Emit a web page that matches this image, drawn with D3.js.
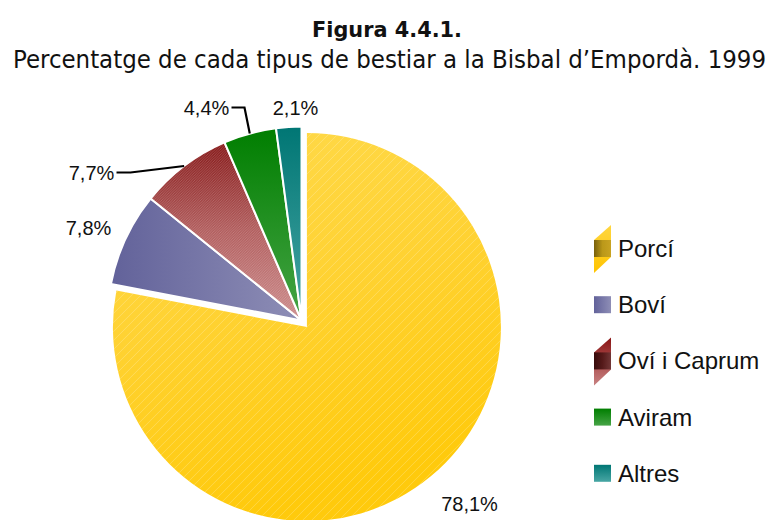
<!DOCTYPE html>
<html lang="ca">
<head>
    <meta charset="UTF-8">
    <title>Figura 4.4.1. Bestiar a la Bisbal d'Empordà, 1999</title>
    <script src="https://d3js.org/d3.v7.min.js"></script>
    <style>
        body { margin: 0; background: #fff; }
        text { fill: #111; font-family: "Liberation Sans", Arial, sans-serif; }
        .title { font-family: "DejaVu Sans", "Liberation Sans", sans-serif; font-weight: bold; }
        .subtitle { font-family: "Liberation Sans Narrow", "DejaVu Sans Condensed", "Liberation Sans", sans-serif; }
        .slice { stroke: #fff; stroke-width: 2; }
        .leader { fill: none; stroke: #000; stroke-width: 2.2; }
    </style>
</head>
<body>
<svg height="520" width="768"></svg>

<script>
    // data
    const categories = ["Porcí", "Boví", "Oví i Caprum", "Aviram", "Altres"];
    const values     = [78.1, 7.8, 7.7, 4.4, 2.1];
    const valueLabels = ["78,1%", "7,8%", "7,7%", "4,4%", "2,1%"];

    // layout (label offsets from the pie centre, leader elbows)
    const labelOffsets = [[168, 183], [-213, -93], [-210, -148], [-95, -213], [-6, -213]];
    const leaderElbows = [null, null, [-171, -148], [-57, -213], null];

    const svg = d3.select("svg");
    const cx = 301.5, cy = 320.5, R = 194, explode = 8.5;

    const defs = svg.append("defs");
    function grad(id, x2, y2, stops) {
        const g = defs.append("linearGradient").attr("id", id)
            .attr("x1", 0).attr("y1", 0).attr("x2", x2).attr("y2", y2);
        stops.forEach((c, i) => g.append("stop")
            .attr("offset", i / (stops.length - 1)).attr("stop-color", c));
    }
    grad("g0", 0.3, 1, ["#ffda4c", "#ffd232", "#ffca0c"]);
    grad("g1", 1, 0, ["#62629a", "#8e8eb6"]);
    grad("g2", 0, 1, ["#861818", "#b25e5e", "#cc8c8c"]);
    grad("g3", 0, 1, ["#007e00", "#46a446"]);
    grad("g4", 0, 1, ["#007674", "#48a6a4"]);
    // legend bits
    grad("lg0", 0, 1, ["#ffd640", "#ffc400"]);
    grad("lg2", 0, 1, ["#8a1414", "#c88282"]);
    grad("lq0", 1, 0, ["#6a5408", "#b39218", "#c29e22"]);
    grad("lq2", 1, 0, ["#2a0404", "#4c1414", "#6c3434"]);

    function hatch(id, size, color, op) {
        const p = defs.append("pattern").attr("id", id)
            .attr("patternUnits", "userSpaceOnUse")
            .attr("width", size).attr("height", size);
        p.append("path")
            .attr("d", `M0,${size} L${size},0 M${-size/2},${size/2} L${size/2},${-size/2} M${size/2},${size*1.5} L${size*1.5},${size/2}`)
            .attr("stroke", color).attr("stroke-width", 0.8).attr("stroke-opacity", op);
    }
    hatch("h0", 9, "#fff", 0.28);
    hatch("h2", 2.6, "#fff", 0.22);

    // title
    svg.append("text").attr("class", "title")
        .attr("x", 387).attr("y", 37).attr("text-anchor", "middle")
        .style("font-size", "21px")
        .attr("textLength", 150).attr("lengthAdjust", "spacingAndGlyphs")
        .text("Figura 4.4.1.");
    svg.append("text").attr("class", "subtitle")
        .attr("x", 389.5).attr("y", 68).attr("text-anchor", "middle")
        .style("font-size", "24px")
        .attr("textLength", 753).attr("lengthAdjust", "spacingAndGlyphs")
        .text("Percentatge de cada tipus de bestiar a la Bisbal d\u2019Empordà. 1999");

    // pie
    const pie = d3.pie().sort(null).value(d => d);
    const arcs = pie(values);
    const arc = d3.arc().innerRadius(0).outerRadius(R);

    const g = svg.append("g").attr("transform", `translate(${cx},${cy})`);

    const shift = d => {
        if (d.index !== 0) return [0, 0];
        const a = (d.startAngle + d.endAngle) / 2;
        return [explode * Math.sin(a), -explode * Math.cos(a)];
    };

    const slices = g.selectAll("g.slice-g")
        .data(arcs)
        .join("g").attr("class", "slice-g")
          .attr("transform", d => `translate(${shift(d)})`);

    slices.append("path").attr("class", "slice")
        .attr("d", arc)
        .attr("fill", (d, i) => `url(#g${i})`)
        .style("stroke", (d, i) => i === 0 ? "none" : "#fff");

    slices.filter(d => d.index === 0 || d.index === 2)
        .append("path")
        .attr("d", arc)
        .attr("fill", d => `url(#h${d.index})`);

    // leaders
    arcs.forEach((d, i) => {
        if (!leaderElbows[i]) return;
        const a = (d.startAngle + d.endAngle) / 2;
        const p = [R * Math.sin(a), -R * Math.cos(a)];
        const e = leaderElbows[i];
        const tx = labelOffsets[i][0] + 25;
        g.append("path").attr("class", "leader")
            .attr("d", d3.line()([[tx, e[1]], e, p]));
    });

    // value labels
    g.selectAll("text.val")
        .data(arcs)
        .join("text").attr("class", "val")
          .attr("x", (d, i) => labelOffsets[i][0])
          .attr("y", (d, i) => labelOffsets[i][1])
          .attr("text-anchor", "middle")
          .attr("dominant-baseline", "central")
          .style("font-size", "20px")
          .text((d, i) => valueLabels[i]);

    // legend
    const lx = 594, s = 17, ly0 = 248.5, lstep = 56.2;
    const legend = svg.selectAll("g.legend")
        .data(categories)
        .join("g").attr("class", "legend")
          .attr("transform", (d, i) => `translate(${lx},${ly0 + i * lstep})`);

    legend.each(function(d, i) {
        const el = d3.select(this);
        if (i === 0 || i === 2) {
            el.append("path")
              .attr("d", `M${s},${-s/2 - 15} L${s},${s/2} L0,${s/2 + 16} L0,${-s/2} Z`)
              .attr("fill", `url(#lg${i})`);
            el.append("rect")
              .attr("x", 0).attr("y", -s/2).attr("width", s).attr("height", s)
              .attr("fill", `url(#lq${i})`).attr("opacity", 0.9);
        } else {
            el.append("rect")
              .attr("x", 0).attr("y", -s/2).attr("width", s).attr("height", s)
              .attr("fill", `url(#g${i})`);
        }
        el.append("text")
          .attr("x", 24).attr("y", 0)
          .attr("dominant-baseline", "central")
          .style("font-size", "24px")
          .text(d);
    });
</script>

</body>
</html>
